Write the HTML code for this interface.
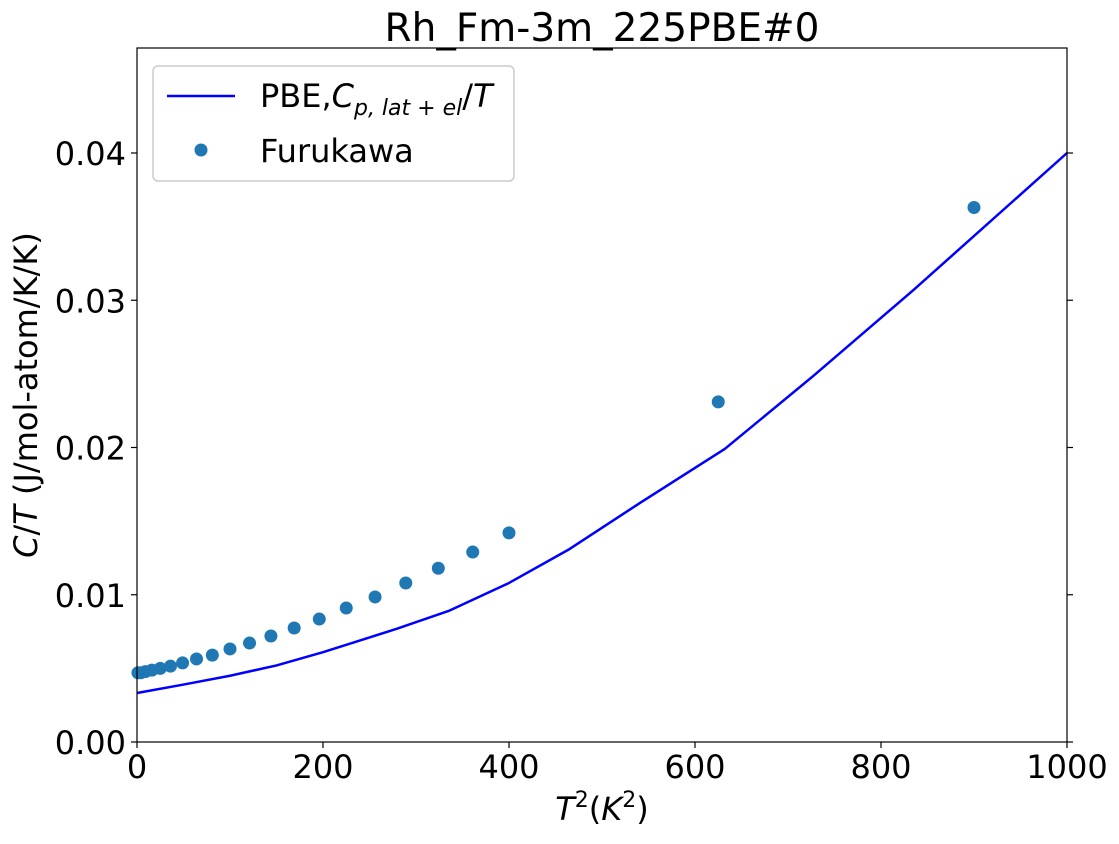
<!DOCTYPE html>
<html><head><meta charset="utf-8"><style>
body{margin:0;background:#fff;}
svg text{font-family:"DejaVu Sans","Liberation Sans",sans-serif;fill:#000;}
</style></head><body>
<svg id="chart" width="1119" height="839" viewBox="0 0 1119 839" xmlns="http://www.w3.org/2000/svg">
<text x="602" y="41" font-size="39" text-anchor="middle">Rh_Fm-3m_225PBE#0</text>
<g id="plot"></g>
<text x="602" y="820" font-size="32" text-anchor="middle"><tspan font-style="italic">T</tspan><tspan font-size="22" dy="-13">2</tspan><tspan dy="13">(</tspan><tspan font-style="italic">K</tspan><tspan font-size="22" dy="-13">2</tspan><tspan dy="13">)</tspan></text>
<text transform="translate(37,395) rotate(-90)" font-size="32" text-anchor="middle"><tspan font-style="italic">C</tspan>/<tspan font-style="italic">T</tspan> (J/mol-atom/K/K)</text>
<g>
<rect x="153" y="66" width="361" height="115" rx="5" fill="#fff" stroke="#ccc" stroke-width="1.5"/>
<line x1="167" y1="96" x2="235" y2="96" stroke="#0000ff" stroke-width="2.5"/>
<text x="260" y="107" font-size="32">PBE,<tspan font-style="italic">C</tspan><tspan font-size="22" dy="8" font-style="italic">p, lat + el</tspan><tspan dy="-8">/</tspan><tspan font-style="italic">T</tspan></text>
<circle cx="201" cy="150" r="6.5" fill="#1f77b4"/>
<text x="260" y="162" font-size="32">Furukawa</text>
</g>
</svg>
<script>
const lineX=[0,50,100,150,200,280,335,400,465,540,632,728,835,1000];
const lineY=[0.00333,0.0039,0.0045,0.0052,0.0061,0.0077,0.0089,0.0108,0.0131,0.0162,0.0199,0.0249,0.0307,0.040];
const ptsX=[1,4,9,16,25,36,49,64,81,100,121,144,169,196,225,256,289,324,361,400,625,900];
const ptsY=[0.0047,0.0047,0.00478,0.00488,0.005,0.00515,0.00537,0.00564,0.0059,0.00632,0.00672,0.0072,0.00774,0.00835,0.0091,0.00985,0.0108,0.0118,0.0129,0.0142,0.0231,0.0363];
const xTicks=[0,200,400,600,800,1000];
const yTicks=[0,0.01,0.02,0.03,0.04];
const yTickLabels=["0.00","0.01","0.02","0.03","0.04"];
const L=137,R=1067,T=48,B=742;
const sx=v=>L+(v-0)/(1000-0)*(R-L);
const sy=v=>B-(v/0.04)*(B-153);
const NS="http://www.w3.org/2000/svg";
const g=document.getElementById('plot');
function mk(t,a){const e=document.createElementNS(NS,t);for(const k in a)e.setAttribute(k,a[k]);g.appendChild(e);return e;}
let d=lineX.map((x,i)=>(i?'L':'M')+sx(x)+','+sy(lineY[i])).join(' ');
const ln=mk('path',{d:d,fill:'none',stroke:'#0000ff','stroke-width':2.5,'stroke-linejoin':'round'});


ptsX.forEach((x,i)=>{const c=mk('circle',{cx:sx(x),cy:sy(ptsY[i]),r:6.5,fill:'#1f77b4'});

});
const fr=mk('rect',{x:L,y:T,width:R-L,height:B-T,fill:'none',stroke:'#000','stroke-width':1.2});


xTicks.forEach(v=>{mk('line',{x1:sx(v),x2:sx(v),y1:B,y2:B+6,stroke:'#000','stroke-width':1.2});
const t=mk('text',{x:sx(v),y:B+36,'font-size':32,'text-anchor':'middle'});t.textContent=v;

});
yTicks.forEach((v,i)=>{mk('line',{x1:L-6,x2:L,y1:sy(v),y2:sy(v),stroke:'#000','stroke-width':1.2});
mk('line',{x1:R,x2:R+6,y1:sy(v),y2:sy(v),stroke:'#000','stroke-width':1.2});
const t=mk('text',{x:L-11,y:sy(v)+12,'font-size':32,'text-anchor':'end'});t.textContent=yTickLabels[i];

});
</script>
</body></html>
